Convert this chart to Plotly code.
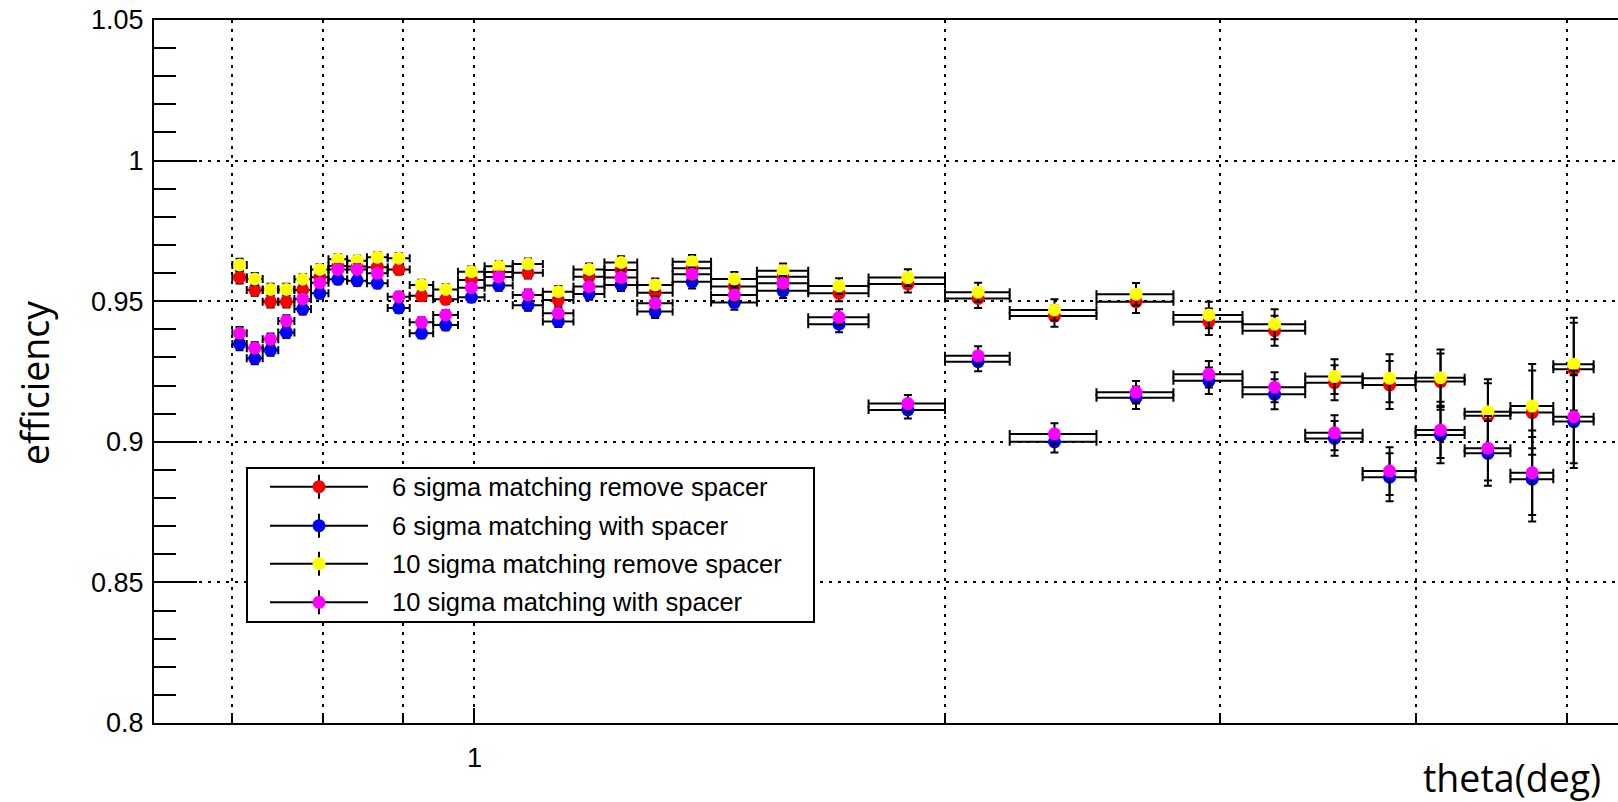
import plotly.graph_objects as go
import math

# ---------------- data ----------------
bin_edges = [0.700, 0.715, 0.732, 0.749, 0.767, 0.786, 0.8065, 0.829, 0.8535, 0.880,
             0.909, 0.941, 0.976, 1.015, 1.058, 1.106, 1.157, 1.211, 1.271, 1.339,
             1.417, 1.516, 1.635, 1.787, 2.0, 2.2, 2.5, 2.8, 3.1, 3.4,
             3.7, 4.0, 4.3, 4.6, 4.9, 5.2]

eff_6sig_remove = [0.9585, 0.9540, 0.9498, 0.9498, 0.9540, 0.9585, 0.9625, 0.9623, 0.9621, 0.9613,
                   0.9519, 0.9507, 0.9575, 0.9604, 0.9601, 0.9504, 0.9587, 0.9611, 0.9530, 0.9617,
                   0.9552, 0.9587, 0.9528, 0.9561, 0.9510, 0.9447, 0.9498, 0.9427, 0.9395, 0.9210,
                   0.9202, 0.9214, 0.9093, 0.9104, 0.9258]
eff_6sig_with = [0.9348, 0.9297, 0.9326, 0.9389, 0.9472, 0.9528, 0.9578, 0.9573, 0.9564, 0.9476,
                 0.9386, 0.9415, 0.9514, 0.9556, 0.9486, 0.9428, 0.9526, 0.9558, 0.9463, 0.9569,
                 0.9495, 0.9537, 0.9418, 0.9113, 0.9285, 0.9000, 0.9157, 0.9217, 0.9169, 0.9012,
                 0.8874, 0.9024, 0.8959, 0.8867, 0.9072]
eff_10sig_remove = [0.9629, 0.9579, 0.9542, 0.9542, 0.9578, 0.9613, 0.9649, 0.9644, 0.9656, 0.9653,
                    0.9558, 0.9542, 0.9605, 0.9624, 0.9632, 0.9534, 0.9613, 0.9638, 0.9558, 0.9640,
                    0.9579, 0.9608, 0.9554, 0.9584, 0.9532, 0.9469, 0.9525, 0.9451, 0.9418, 0.9232,
                    0.9226, 0.9228, 0.9107, 0.9127, 0.9276]
eff_10sig_with = [0.9386, 0.9333, 0.9365, 0.9430, 0.9508, 0.9566, 0.9613, 0.9613, 0.9599, 0.9516,
                  0.9425, 0.9451, 0.9548, 0.9586, 0.9522, 0.9457, 0.9552, 0.9584, 0.9493, 0.9596,
                  0.9522, 0.9564, 0.9443, 0.9136, 0.9306, 0.9028, 0.9176, 0.9240, 0.9194, 0.9032,
                  0.8896, 0.9042, 0.8977, 0.8890, 0.9089]
eff_err = [0.0022, 0.0021, 0.0020, 0.0020, 0.0019, 0.0018, 0.0018, 0.0018, 0.0018, 0.0018,
           0.0018, 0.0018, 0.0018, 0.0019, 0.0020, 0.0020, 0.0021, 0.0022, 0.0023, 0.0024,
           0.0025, 0.0026, 0.0028, 0.0030, 0.0034, 0.0038, 0.0040, 0.0047, 0.0053, 0.0062,
           0.0085, 0.0100, 0.0115, 0.0150, 0.0165]

series_names = ["6 sigma matching remove spacer", "6 sigma matching with spacer",
                "10 sigma matching remove spacer", "10 sigma matching with spacer"]
series_values = [eff_6sig_remove, eff_6sig_with, eff_10sig_remove, eff_10sig_with]
series_colors = ["#ff0000", "#0000ff", "#ffff00", "#ff00ff"]

x_tick_major = [1]
x_tick_minor = [0.7, 0.8, 0.9, 2, 3, 4, 5]
y_ticks = [0.8, 0.85, 0.9, 0.95, 1.0, 1.05]
y_tick_labels = ["0.8", "0.85", "0.9", "0.95", "1", "1.05"]
x_range = [0.6237, 5.39]
y_range = [0.8, 1.05]

# ---------------- layout geometry ----------------
W, H = 1618, 802
ML, MR, MT, MB = 154, 0, 20, 79
PW, PH = W - ML - MR, H - MT - MB


def px2x(px):
    return (px - ML) / PW


def py2y(py):
    return (H - MB - py) / PH


centers = [(a + b) / 2 for a, b in zip(bin_edges[:-1], bin_edges[1:])]
err_plus = [b - c for b, c in zip(bin_edges[1:], centers)]
err_minus = [c - a for a, c in zip(bin_edges[:-1], centers)]

fig = go.Figure()
for name, vals, col in zip(series_names, series_values, series_colors):
    fig.add_trace(go.Scatter(
        x=centers, y=vals, mode="markers", name=name, showlegend=False,
        marker=dict(color=col, size=13, line=dict(width=0)),
        error_x=dict(type="data", symmetric=False, array=err_plus, arrayminus=err_minus,
                     color="black", thickness=2, width=4),
        error_y=dict(type="data", array=eff_err, color="black", thickness=2, width=4),
        cliponaxis=False,
    ))

tick_font = dict(family="Liberation Sans, Arial, sans-serif", size=27, color="black")

fig.update_xaxes(
    type="log", range=[math.log10(x_range[0]), math.log10(x_range[1])],
    showline=True, linewidth=2, linecolor="black", mirror=True,
    tickmode="array", tickvals=x_tick_major, ticktext=["1"],
    ticks="inside", ticklen=15, tickwidth=2, tickcolor="black",
    tickfont=tick_font, ticklabelstandoff=10,
    showgrid=True, gridcolor="black", gridwidth=2, griddash="3px,6px",
    minor=dict(tickmode="array", tickvals=x_tick_minor, ticks="inside", ticklen=10,
               tickwidth=2, tickcolor="black", showgrid=True, gridcolor="black",
               gridwidth=2, griddash="3px,6px"),
    zeroline=False, automargin=False,
)
fig.update_yaxes(
    range=y_range, showline=True, linewidth=2, linecolor="black", mirror=False,
    tickmode="array", tickvals=y_ticks, ticktext=y_tick_labels,
    ticks="inside", ticklen=43, tickwidth=2, tickcolor="black",
    tickfont=tick_font, ticklabelstandoff=3,
    showgrid=True, gridcolor="black", gridwidth=2, griddash="3px,6px",
    minor=dict(dtick=0.01, ticks="inside", ticklen=22, tickwidth=2,
               tickcolor="black", showgrid=False),
    zeroline=False, automargin=False,
)

shapes = []
annotations = []

# legend box
lx0, ly0, lx1, ly1 = 247, 468, 814, 622
shapes.append(dict(type="rect", xref="paper", yref="paper",
                   x0=px2x(lx0), x1=px2x(lx1), y0=py2y(ly1), y1=py2y(ly0),
                   line=dict(color="black", width=2), fillcolor="white", layer="above"))
row_y = [486.7, 525.7, 563.7, 602.3]
for ry, name, col in zip(row_y, series_names, series_colors):
    shapes.append(dict(type="line", xref="paper", yref="paper",
                       x0=px2x(270), x1=px2x(368), y0=py2y(ry), y1=py2y(ry),
                       line=dict(color="black", width=2), layer="above"))
    shapes.append(dict(type="line", xref="paper", yref="paper",
                       x0=px2x(319), x1=px2x(319), y0=py2y(ry - 12), y1=py2y(ry + 12),
                       line=dict(color="black", width=2), layer="above"))
    shapes.append(dict(type="circle", xref="paper", yref="paper",
                       x0=px2x(319 - 6.5), x1=px2x(319 + 6.5),
                       y0=py2y(ry + 6.5), y1=py2y(ry - 6.5),
                       line=dict(width=0), fillcolor=col, layer="above"))
    annotations.append(dict(xref="paper", yref="paper", x=px2x(390), y=py2y(ry),
                            xanchor="left", yanchor="middle", showarrow=False, text=name,
                            font=dict(family="Liberation Sans, Arial, sans-serif",
                                      size=25.5, color="black")))

title_font = dict(family="Open Sans, sans-serif", size=37.5, color="black")
annotations.append(dict(xref="paper", yref="paper", x=px2x(1603), y=py2y(777),
                        xanchor="right", yanchor="middle", showarrow=False,
                        text="theta(deg)", font=title_font))
annotations.append(dict(xref="paper", yref="paper", x=px2x(34), y=py2y(383),
                        xanchor="center", yanchor="middle", showarrow=False,
                        text="efficiency", textangle=-90, font=title_font))

fig.update_layout(
    width=W, height=H, autosize=False,
    margin=dict(l=ML, r=MR, t=MT, b=MB, pad=0, autoexpand=False),
    paper_bgcolor="white", plot_bgcolor="white",
    showlegend=False, shapes=shapes, annotations=annotations,
)

fig.write_html("out.html", config={"displayModeBar": False},
               post_script="document.body.style.margin='0';document.body.style.padding='0';document.body.style.overflow='hidden';")
